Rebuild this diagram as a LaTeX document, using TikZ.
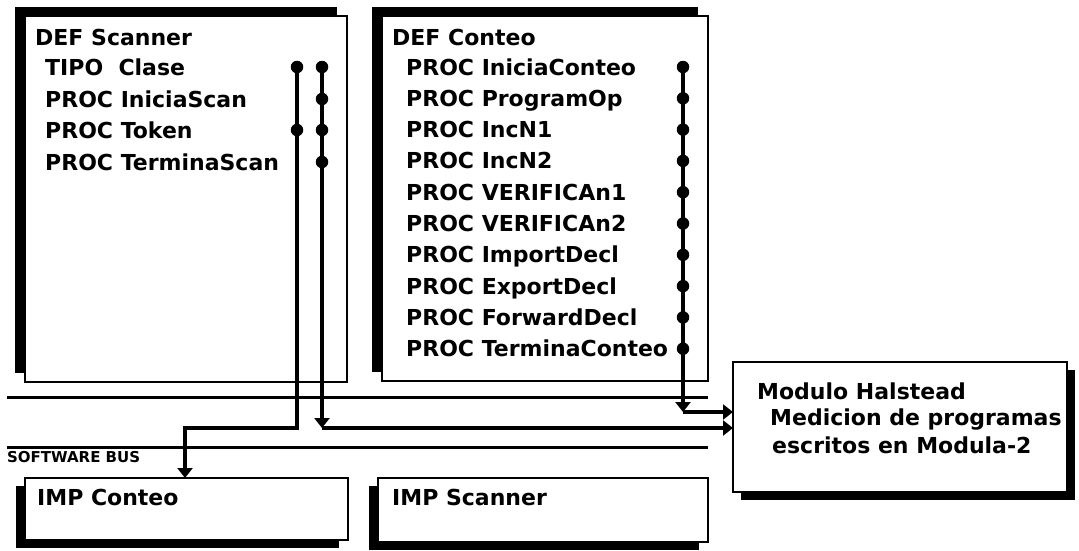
\documentclass[tikz,border=0pt]{standalone}
\usepackage{fontspec}
\setmainfont{DejaVu Sans}
\usetikzlibrary{arrows.meta,shadows}
\begin{document}
\begin{tikzpicture}[x=1pt,y=-1pt,
  box/.style={draw=black,line width=2.2pt,fill=white,inner sep=0pt,outer sep=0pt,anchor=north west},
  shUL/.style={drop shadow={shadow xshift=-10pt,shadow yshift=9pt,fill=black,opacity=1}},
  shDL/.style={drop shadow={shadow xshift=-9pt,shadow yshift=-8pt,fill=black,opacity=1}},
  shDR/.style={drop shadow={shadow xshift=8pt,shadow yshift=-8pt,fill=black,opacity=1}},
  lbl/.style={anchor=base west,inner sep=0pt,font=\bfseries\fontsize{22}{22}\selectfont},
  conn/.style={line width=3.2pt},
  bus/.style={line width=3pt},
  dot/.style={circle,fill=black,inner sep=0pt,minimum size=12.5pt},
  tip/.style={-{Triangle[width=15pt,length=10pt]}},
]
\useasboundingbox (0,0) rectangle (1079,550);
% boxes
\node[box,shUL,minimum width=322pt,minimum height=366pt] (defscan) at (25,16) {};
\node[box,shUL,minimum width=326pt,minimum height=365pt] (defcont) at (382,16) {};
\node[box,shDL,minimum width=323pt,minimum height=62pt] (impcont) at (25,478) {};
\node[box,shDL,minimum width=330pt,minimum height=64pt] (impscan) at (378,478) {};
\node[box,shDR,minimum width=334pt,minimum height=130pt] (halstead) at (733,362) {};
% texts DEF Scanner
\node[lbl] (s0) at (35,45) {DEF Scanner};
\node[lbl] (s1) at (45,75) {TIPO~ Clase};
\node[lbl] (s2) at (45,107) {PROC IniciaScan};
\node[lbl] (s3) at (45,138) {PROC Token};
\node[lbl] (s4) at (45,170) {PROC TerminaScan};
% texts DEF Conteo
\node[lbl] (c0) at (392,45) {DEF Conteo};
\foreach \t [count=\i from 0] in {IniciaConteo,ProgramOp,IncN1,IncN2,VERIFICAn1,VERIFICAn2,ImportDecl,ExportDecl,ForwardDecl,TerminaConteo}{
  \node[lbl] (c\t) at (406,75+31.3*\i) {PROC \t};
  \coordinate (d\i) at (683,67+31.3*\i);
}
% bottom boxes and Halstead
\node[lbl] (ic) at (37,505) {IMP Conteo};
\node[lbl] (is) at (392,505) {IMP Scanner};
\node[lbl] (h1) at (757,399) {Modulo Halstead};
\node[lbl] (h2) at (770,425) {Medicion de programas};
\node[lbl] (h3) at (772,453) {escritos en Modula-2};
% software bus
\coordinate (b1l) at (7,397); \coordinate (b1r) at (708,397);
\coordinate (b2l) at (7,447); \coordinate (b2r) at (708,447);
\draw[bus] (b1l) -- (b1r);
\draw[bus] (b2l) -- (b2r);
\node[anchor=west,inner sep=0pt,font=\bfseries\fontsize{15}{15}\selectfont] (buslbl) at (7,457) {SOFTWARE BUS};
% scanner connectors
\coordinate (aT) at (297,67); \coordinate (aTok) at (297,130);
\coordinate (aC) at (297,428); \coordinate (aD) at (185,428);
\coordinate (bT) at (322,67); \coordinate (bI) at (322,99);
\coordinate (bTok) at (322,130); \coordinate (bTe) at (322,162);
\coordinate (bC) at (322,428);
\draw[conn,tip] (aT) -- (aC) -- (aD) -- (aD |- impcont.north);
\draw[conn,tip] (bT) -- (bC);
\draw[conn,tip] (bC) -- (bC -| halstead.west);
\foreach \p in {aT,aTok,bT,bI,bTok,bTe} \node[dot] at (\p) {};
% conteo connector
\coordinate (cC) at (683,412);
\draw[conn,tip] (d0) -- (cC);
\draw[conn,tip] (cC) -- (cC -| halstead.west);
\foreach \i in {0,...,9} \node[dot] at (d\i) {};
\end{tikzpicture}
\end{document}
